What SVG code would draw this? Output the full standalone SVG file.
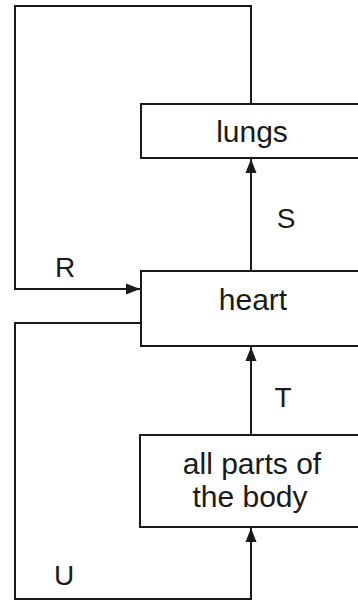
<svg xmlns="http://www.w3.org/2000/svg" width="358" height="601" viewBox="0 0 358 601">
  <defs>
    <style>
      .box { fill: #ffffff; stroke: #1a1a1a; stroke-width: 2; }
      .line { fill: none; stroke: #1a1a1a; stroke-width: 2; }
      .lbl { font-family: "Liberation Sans", Arial, sans-serif; font-size: 30px; fill: #1a1a1a; text-anchor: middle; }
      .let { font-family: "Liberation Sans", Arial, sans-serif; font-size: 28px; fill: #1a1a1a; text-anchor: middle; }
    </style>
    <marker id="arrow" markerUnits="userSpaceOnUse" markerWidth="15" markerHeight="12" refX="14" refY="6" orient="auto">
      <path d="M0,0.5 L14,6 L0,11.5 Z" fill="#1a1a1a"/>
    </marker>
  </defs>
  <rect width="358" height="601" fill="#ffffff"/>

  <g id="connectors">
    <path id="R" class="line" d="M251,104 L251,6 L15,6 L15,289 L140,289" marker-end="url(#arrow)"/>
    <path id="S" class="line" d="M251,271 L251,159" marker-end="url(#arrow)"/>
    <path id="T" class="line" d="M251,435 L251,347" marker-end="url(#arrow)"/>
    <path id="U" class="line" d="M141,323 L15,323 L15,599 L251,599 L251,528" marker-end="url(#arrow)"/>
  </g>

  <g id="lungs">
    <rect class="box" x="141" y="104" width="225" height="54"/>
    <text class="lbl" x="252" y="142">lungs</text>
  </g>
  <g id="heart">
    <rect class="box" x="141" y="271" width="225" height="75"/>
    <text class="lbl" x="253" y="310">heart</text>
  </g>
  <g id="body">
    <rect class="box" x="140" y="435" width="226" height="92"/>
    <text class="lbl" x="252" y="474">all parts of</text>
    <text class="lbl" x="250" y="507">the body</text>
  </g>

  <g id="labels">
    <text class="let" x="65" y="277">R</text>
    <text class="let" x="286" y="228">S</text>
    <text class="let" x="283" y="407">T</text>
    <text class="let" x="64" y="585">U</text>
  </g>
</svg>
